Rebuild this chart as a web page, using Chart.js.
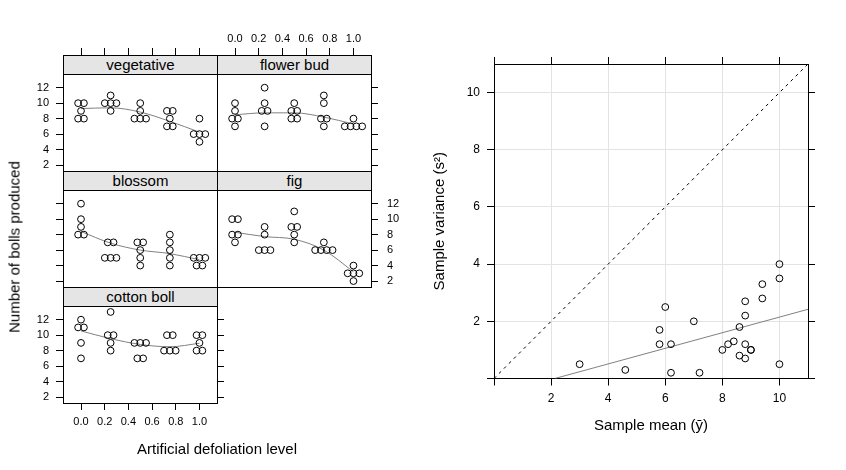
<!DOCTYPE html>
<html><head><meta charset="utf-8">
<script src="https://cdn.jsdelivr.net/npm/chart.js@4.4.1/dist/chart.umd.min.js"></script>
<style>
html,body{margin:0;padding:0;background:#fff;}
#wrap{position:relative;width:846px;height:470px;overflow:hidden;font-family:'Liberation Sans',Arial,Helvetica,sans-serif;color:#000;}
#wrap canvas{position:absolute;}
.strip{position:absolute;box-sizing:border-box;border:1px solid #000;background:#e5e5e5;text-align:center;font-size:15px;line-height:18px;white-space:nowrap;}
.lab{position:absolute;font-size:15px;white-space:nowrap;transform:translate(-50%,-50%);}
</style></head><body><div id="wrap"></div>
<script>
// ---------------- data ----------------
const stages = ["vegetative", "flower bud", "blossom", "fig", "cotton boll"];
const defoliation = [0, 0.25, 0.5, 0.75, 1];
const xTickVals = [0, 0.2, 0.4, 0.6, 0.8, 1];
const xTickLabels = ["0.0", "0.2", "0.4", "0.6", "0.8", "1.0"];
const yTickVals = [2, 4, 6, 8, 10, 12];
const yTickLabels = ["2", "4", "6", "8", "10", "12"];

// number of bolls, 5 plants per defoliation level
const vegetative = [[10,10,9,8,8],[11,10,10,10,9],[10,9,8,8,8],[9,9,8,7,7],[8,6,6,6,5]];
const flowerBud  = [[10,9,8,8,7],[12,10,9,9,7],[10,9,9,8,8],[11,10,8,8,7],[8,7,7,7,7]];
const blossom    = [[12,10,9,8,8],[7,7,5,5,5],[7,7,6,5,4],[8,7,6,5,4],[5,5,5,4,4]];
const fig        = [[10,10,8,8,7],[9,8,6,6,6],[11,9,9,8,7],[7,6,6,6,6],[4,3,3,3,2]];
const cottonBoll = [[12,11,11,9,7],[13,10,10,9,8],[9,9,9,7,7],[10,10,8,8,8],[10,10,9,8,8]];

// smooth curves (at the defoliation levels)
const vegetativeSmooth = [9.3, 9.4, 8.85, 7.65, 6.25];
const flowerBudSmooth  = [8.5, 8.75, 8.75, 8.2, 7.3];
const blossomSmooth    = [8.4, 6.9, 6.0, 5.55, 4.75];
const figSmooth        = [8.3, 7.75, 7.4, 6.0, 3.2];
const cottonBollSmooth = [10.55, 9.55, 8.8, 8.5, 8.95];

// right panel: sample mean vs sample variance
const sampleMean = [9,10,8.6,8,6.2, 8.4,9.4,8.8,8.8,7.2, 9.4,5.8,5.8,6,4.6, 8.6,7,8.8,6.2,3, 10,10,8.2,8.8,9];
const sampleVar  = [1,0.5,0.8,1,1.2, 1.3,3.3,0.7,2.7,0.2, 2.8,1.2,1.7,2.5,0.3, 1.8,2,2.2,0.2,0.5, 4,3.5,1.2,1.2,1];
const scatterTicks = [0, 2, 4, 6, 8, 10];
const identityX = [0, 11], identityY = [0, 11];
const regX = [2.13, 11], regY = [0, 2.42];

// ---------------- layout ----------------
Chart.defaults.font.family = "'Liberation Sans', Arial, Helvetica, sans-serif";
Chart.defaults.color = '#000';
const wrap = document.getElementById('wrap');
const COL_LEFT = [63, 217], PANEL_W = 154;
const ROW_TOP = [55, 171, 287], STRIP_H = 19, PLOT_H = 97, M = 50;
const X_MIN = -0.152, X_MAX = 1.148;
const Y_LO = 1.23, Y_HI = 13.77;
const Y_MAX = Y_HI + STRIP_H / PLOT_H * (Y_HI - Y_LO);
const SWARM_STEP = 0.049;

const panels = [
  {vals: vegetative, smooth: vegetativeSmooth, col: 0, row: 0, axes: {top: 'ticks', left: 'labels'}},
  {vals: flowerBud,  smooth: flowerBudSmooth,  col: 1, row: 0, axes: {top: 'labels', right: 'ticks'}},
  {vals: blossom,    smooth: blossomSmooth,    col: 0, row: 1, axes: {left: 'ticks'}},
  {vals: fig,        smooth: figSmooth,        col: 1, row: 1, axes: {right: 'labels'}},
  {vals: cottonBoll, smooth: cottonBollSmooth, col: 0, row: 2, axes: {left: 'labels', bottom: 'labels', right: 'ticks'}}
];

function swarm(groups) {
  const pts = [];
  groups.forEach((vals, gi) => {
    const count = {}, seen = {};
    vals.forEach(v => { count[v] = (count[v] || 0) + 1; });
    vals.forEach(v => {
      const k = seen[v] || 0; seen[v] = k + 1;
      pts.push({x: defoliation[gi] + (k - (count[v] - 1) / 2) * SWARM_STEP, y: v});
    });
  });
  return pts;
}

function latticeAxis(pos, mode) {
  const isX = pos === 'top' || pos === 'bottom';
  const pad = {top: 2, bottom: 5, left: 7, right: 9}[pos];
  return {
    type: 'linear', position: pos,
    min: isX ? X_MIN : Y_LO, max: isX ? X_MAX : Y_MAX,
    afterFit: s => { if (isX) s.height = M; else s.width = M; },
    afterBuildTicks: s => { s.ticks = (isX ? xTickVals : yTickVals).map(v => ({value: v})); },
    grid: {display: true, drawOnChartArea: false, drawTicks: !!mode, tickLength: 7, tickColor: '#000', color: '#000', lineWidth: 1},
    border: {display: true, color: '#000', width: 1},
    ticks: {display: mode === 'labels', autoSkip: false, maxRotation: 0, minRotation: 0, padding: pad,
            font: {size: 11}, color: '#000',
            callback: (v, i) => (isX ? xTickLabels : yTickLabels)[i]}
  };
}

panels.forEach((p, idx) => {
  const left = COL_LEFT[p.col], top = ROW_TOP[p.row];
  const cv = document.createElement('canvas');
  cv.width = PANEL_W + 2 * M; cv.height = STRIP_H + PLOT_H + 2 * M;
  cv.style.left = (left - M) + 'px'; cv.style.top = (top - M) + 'px';
  wrap.appendChild(cv);
  new Chart(cv, {
    type: 'scatter',
    data: {datasets: [
      {data: swarm(p.vals), pointRadius: 3.4, borderWidth: 1, borderColor: '#000', backgroundColor: 'rgba(0,0,0,0)', order: 0},
      {type: 'line', data: defoliation.map((x, i) => ({x: x, y: p.smooth[i]})), borderColor: '#808080', borderWidth: 1,
       pointRadius: 0, cubicInterpolationMode: 'monotone', fill: false, order: 1}
    ]},
    options: {
      responsive: false, animation: false, devicePixelRatio: 1,
      layout: {padding: 0},
      plugins: {legend: {display: false}, tooltip: {enabled: false}},
      scales: {
        x: latticeAxis('bottom', p.axes.bottom),
        x2: latticeAxis('top', p.axes.top),
        y: latticeAxis('left', p.axes.left),
        y2: latticeAxis('right', p.axes.right)
      }
    }
  });
  const st = document.createElement('div');
  st.className = 'strip';
  st.style.left = left + 'px'; st.style.top = top + 'px';
  st.style.width = (PANEL_W + 1) + 'px'; st.style.height = (STRIP_H + 1) + 'px';
  st.textContent = stages[idx];
  wrap.appendChild(st);
});

function addLabel(text, x, y, rot) {
  const d = document.createElement('div');
  d.className = 'lab';
  d.style.left = x + 'px'; d.style.top = y + 'px';
  if (rot) d.style.transform = 'translate(-50%,-50%) rotate(-90deg)';
  d.textContent = text;
  wrap.appendChild(d);
}
addLabel('Number of bolls produced', 14, 247, true);
addLabel('Artificial defoliation level', 217, 448, false);

// ---------------- right panel ----------------
const SC_LEFT = 423;
const sc = document.createElement('canvas');
sc.width = 423; sc.height = 470;
sc.style.left = SC_LEFT + 'px'; sc.style.top = '0px';
wrap.appendChild(sc);

function scatterAxis(pos, labels, title) {
  const isX = pos === 'top' || pos === 'bottom';
  const size = {left: 71, right: 38, top: 64, bottom: 91.5}[pos];
  const main = pos === 'bottom' || pos === 'left';
  const o = {
    type: 'linear', position: pos, min: 0, max: 11,
    afterFit: s => { if (isX) s.height = size; else s.width = size; },
    afterBuildTicks: s => { s.ticks = scatterTicks.map(v => ({value: v})); },
    grid: {display: true, drawOnChartArea: main, drawTicks: true, tickLength: 7, tickColor: '#000',
           color: c => (c.tick && c.tick.value === 0) ? 'rgba(0,0,0,0)' : '#e3e3e3', lineWidth: 1},
    border: {display: true, color: '#000', width: 1},
    ticks: {display: labels, autoSkip: false, maxRotation: 0, minRotation: 0,
            padding: isX ? 6 : 7, font: {size: 12}, color: '#000',
            callback: v => (v === 0 ? '' : String(v))}
  };
  if (title) {
    o.title = {display: true, text: title, font: {size: 15}, color: '#000',
               padding: isX ? {top: 0, bottom: 35} : {top: 8, bottom: 0}};
  }
  return o;
}

new Chart(sc, {
  type: 'scatter',
  data: {datasets: [
    {data: sampleMean.map((x, i) => ({x: x, y: sampleVar[i]})), pointRadius: 3.4, borderWidth: 1,
     borderColor: '#000', backgroundColor: 'rgba(0,0,0,0)', order: 0},
    {type: 'line', data: identityX.map((x, i) => ({x: x, y: identityY[i]})), borderColor: '#000', borderWidth: 1,
     borderDash: [3, 4], pointRadius: 0, fill: false, order: 1},
    {type: 'line', data: regX.map((x, i) => ({x: x, y: regY[i]})), borderColor: '#808080', borderWidth: 1,
     pointRadius: 0, fill: false, order: 2}
  ]},
  options: {
    responsive: false, animation: false, devicePixelRatio: 1,
    layout: {padding: 0},
    plugins: {legend: {display: false}, tooltip: {enabled: false}},
    scales: {
      x: scatterAxis('bottom', true, 'Sample mean (\u0233)'),
      x2: scatterAxis('top', false),
      y: scatterAxis('left', true, 'Sample variance (s\u00B2)'),
      y2: scatterAxis('right', false)
    }
  }
});
</script></body></html>
